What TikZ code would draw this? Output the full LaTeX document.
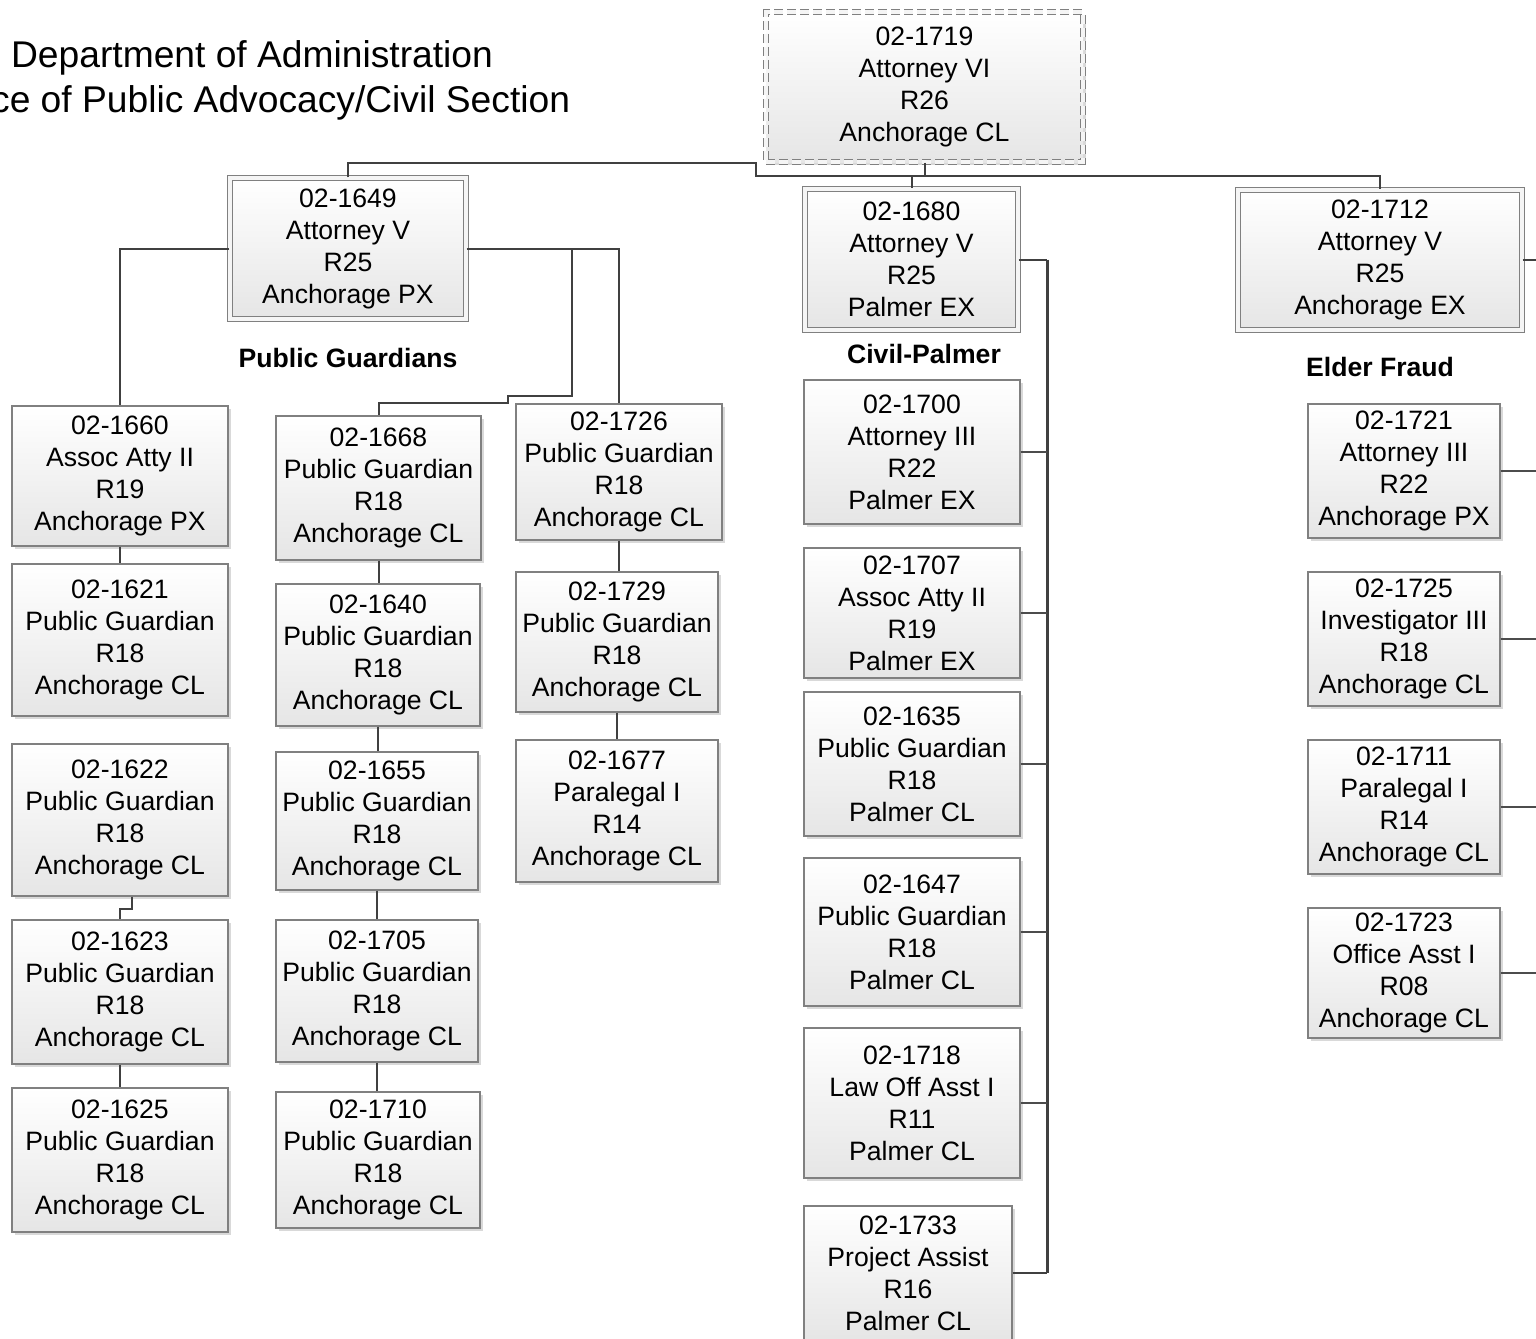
\documentclass[tikz,border=0pt]{standalone}
\usepackage{fontspec}
\setmainfont{Liberation Sans}
\usetikzlibrary{shadows,calc}
\tikzset{
  box/.style={draw=black!50, line width=0.6pt, top color=white, bottom color=black!10,
    align=center, inner sep=0pt, font=\fontsize{13.3}{16}\selectfont,
    drop shadow={shadow xshift=1.5pt, shadow yshift=-1.5pt, fill=black, opacity=0.15}},
  dbl/.style={double=white!96!black, double distance=1.6pt, line width=0.55pt, draw=black!50},
  conn/.style={draw=black!75, line width=1pt},
  thin conn/.style={draw=black!70, line width=0.7pt},
  lbl/.style={font=\fontsize{13.3}{16}\selectfont\bfseries},
}
\newcommand\bx[7][]{\node[box,#1,minimum width={(#5-#3)*0.5pt},minimum height={(#6-#4)*0.5pt}] (#2) at ({(#3+#5)/2},{(#4+#6)/2}) {#7};}
\begin{document}
\begin{tikzpicture}[x=0.5pt,y=-0.5pt]
\clip (0,0) rectangle (1536,1338);
\fill[white] (0,0) rectangle (1536,1338);

% title
\node[align=center, font=\fontsize{18.6}{22.5}\selectfont] (title) at (252,80)
  {Department of Administration\\Office of Public Advocacy/Civil Section};

% top
\bx[dbl,dash pattern=on 4.5pt off 2pt]{n1719}{766}{12}{1083}{162}{02-1719\\Attorney VI\\R26\\Anchorage CL}

% managers
\bx[dbl]{n1649}{230}{178}{466}{319}{02-1649\\Attorney V\\R25\\Anchorage PX}
\bx[dbl]{n1680}{805}{189}{1018}{330}{02-1680\\Attorney V\\R25\\Palmer EX}
\bx[dbl]{n1712}{1238}{190}{1522}{330}{02-1712\\Attorney V\\R25\\Anchorage EX}

% labels
\node[lbl] (lpg) at (348,358) {Public Guardians};
\node[lbl] (lcp) at (924,354) {Civil-Palmer};
\node[lbl] (lef) at (1380,367) {Elder Fraud};

% column 1
\bx{n1660}{12}{406}{228}{546}{02-1660\\Assoc Atty II\\R19\\Anchorage PX}
\bx{n1621}{12}{564}{228}{716}{02-1621\\Public Guardian\\R18\\Anchorage CL}
\bx{n1622}{12}{744}{228}{896}{02-1622\\Public Guardian\\R18\\Anchorage CL}
\bx{n1623}{12}{920}{228}{1064}{02-1623\\Public Guardian\\R18\\Anchorage CL}
\bx{n1625}{12}{1088}{228}{1232}{02-1625\\Public Guardian\\R18\\Anchorage CL}

% column 2
\bx{n1668}{276}{416}{481}{560}{02-1668\\Public Guardian\\R18\\Anchorage CL}
\bx{n1640}{276}{584}{480}{726}{02-1640\\Public Guardian\\R18\\Anchorage CL}
\bx{n1655}{276}{752}{478}{890}{02-1655\\Public Guardian\\R18\\Anchorage CL}
\bx{n1705}{276}{920}{478}{1062}{02-1705\\Public Guardian\\R18\\Anchorage CL}
\bx{n1710}{276}{1092}{480}{1228}{02-1710\\Public Guardian\\R18\\Anchorage CL}

% column 3
\bx{n1726}{516}{404}{722}{540}{02-1726\\Public Guardian\\R18\\Anchorage CL}
\bx{n1729}{516}{572}{718}{712}{02-1729\\Public Guardian\\R18\\Anchorage CL}
\bx{n1677}{516}{740}{718}{882}{02-1677\\Paralegal I\\R14\\Anchorage CL}

% column 4 (Civil-Palmer)
\bx{n1700}{804}{380}{1020}{524}{02-1700\\Attorney III\\R22\\Palmer EX}
\bx{n1707}{804}{548}{1020}{678}{02-1707\\Assoc Atty II\\R19\\Palmer EX}
\bx{n1635}{804}{692}{1020}{836}{02-1635\\Public Guardian\\R18\\Palmer CL}
\bx{n1647}{804}{858}{1020}{1006}{02-1647\\Public Guardian\\R18\\Palmer CL}
\bx{n1718}{804}{1028}{1020}{1178}{02-1718\\Law Off Asst I\\R11\\Palmer CL}
\bx{n1733}{804}{1206}{1012}{1340}{02-1733\\Project Assist\\R16\\Palmer CL}

% column 5 (Elder Fraud)
\bx{n1721}{1308}{404}{1500}{538}{02-1721\\Attorney III\\R22\\Anchorage PX}
\bx{n1725}{1308}{572}{1500}{706}{02-1725\\Investigator III\\R18\\Anchorage CL}
\bx{n1711}{1308}{740}{1500}{874}{02-1711\\Paralegal I\\R14\\Anchorage CL}
\bx{n1723}{1308}{908}{1500}{1038}{02-1723\\Office Asst I\\R08\\Anchorage CL}

% ---- connectors ----
\coordinate (b1) at (756,163);
\coordinate (b2) at (756,176);
\coordinate (b3) at (912,176);
\draw[conn] (n1649.north) |- (b1) -- (b2) -| (n1712.north);
\draw[conn] (n1719.south) -- (n1719.south |- b2);
\draw[conn] (b3) -- (n1680.north -| b3);

% Public Guardians
\coordinate (c1) at (572,396);
\coordinate (c2) at (508,403);
\draw[conn] (n1649.west) -| (n1660.north);
\draw[conn] (n1649.east) -| (n1726.north);
\draw[conn] (c1 |- n1649.east) -- (c1) -| (c2) -| (n1668.north);

\draw[conn] (n1660.south) -- (n1621.north);
\draw[conn] ([xshift=6pt]n1622.south) -- ++(0,12) -| (n1623.north);
\draw[conn] (n1623.south) -- (n1625.north);

\draw[conn] (n1668.south) -- (n1640.north -| n1668.south);
\draw[conn] (n1640.south) -- (n1655.north -| n1640.south);
\draw[conn] (n1655.south) -- (n1705.north);
\draw[conn] (n1705.south) -- (n1710.north -| n1705.south);

\draw[conn] (n1726.south) -- (n1729.north -| n1726.south);
\draw[conn] (n1729.south) -- (n1677.north);

% Civil-Palmer trunk
\coordinate (tr) at (1047,260);
\draw[conn] (n1680.east) -- (n1680.east -| tr);
\draw[draw=black!75, line width=1.5pt] (n1680.east -| tr) -- (n1733.east -| tr);
\draw[conn] (n1733.east) -- (n1733.east -| tr);
\foreach \n in {n1700,n1707,n1635,n1647,n1718}
  \draw[thin conn] (\n.east) -- (\n.east -| tr);

% Elder Fraud
\coordinate (e0) at (1540,0);
\draw[conn] (n1712.east) -- (n1712.east -| e0);
\foreach \n in {n1721,n1725,n1711,n1723}
  \draw[thin conn] (\n.east) -- (\n.east -| e0);
\end{tikzpicture}
\end{document}
